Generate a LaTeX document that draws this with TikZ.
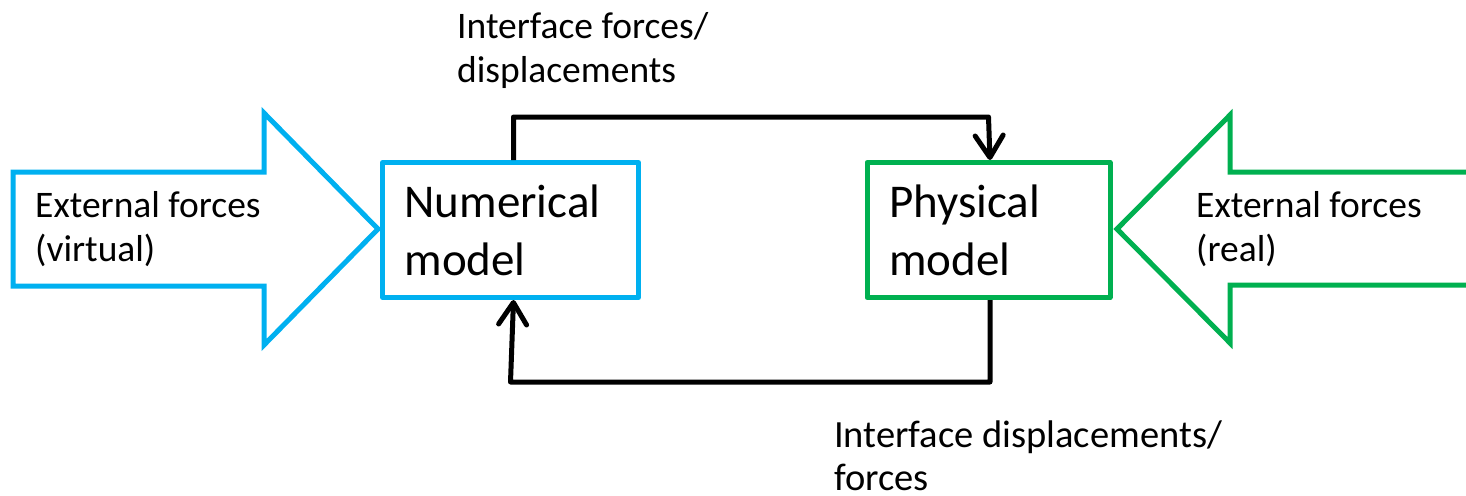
\documentclass[tikz,border=0pt]{standalone}
\usepackage{fontspec}
\setmainfont{Carlito}
\usetikzlibrary{arrows.meta}
\definecolor{cblue}{HTML}{00B0F0}
\definecolor{cgreen}{HTML}{00B050}
\begin{document}
\begin{tikzpicture}[x=1pt,y=-1pt,
  bigarrow/.style={line width=5pt, line join=miter, fill=white},
  modelbox/.style={line width=5pt, line join=round, minimum height=135pt, inner xsep=22pt, inner ysep=0pt, align=left, font=\fontsize{47}{58}\selectfont},
  lbl/.style={align=left, inner sep=0pt, font=\fontsize{37.5}{44}\selectfont},
  conn/.style={line width=5pt, line join=round, -{Straight Barb[length=22pt,width=28pt,line cap=round,line join=round]}}]
\useasboundingbox (0,0) rectangle (1466,495);
\clip (0,0) rectangle (1466,495);
% big arrows
\draw[bigarrow, draw=cblue] (13,172) -- (264,172) -- (264,113) -- (378,229) -- (264,345) -- (264,286) -- (13,286) -- cycle;
\draw[bigarrow, draw=cgreen] (1480,172) -- (1230,172) -- (1230,115) -- (1117,229) -- (1230,343) -- (1230,285) -- (1480,285) -- cycle;
\node[lbl, anchor=base west] (ev) at (35,261) {External forces\\(virtual)};
\node[lbl, anchor=base west] (er) at (1196,261) {External forces\\(real)};
% model boxes
\node[modelbox, draw=cblue, minimum width=256pt, text width=212pt] (num) at (510.5,230) {Numerical\\model};
\node[modelbox, draw=cgreen, minimum width=243pt, text width=199pt] (phy) at (988.5,230) {Physical\\model};
% connectors
\coordinate (topy) at (0,117);
\coordinate (boty) at (0,382);
\draw[conn] ([xshift=3pt]num.north) |- (topy -| phy.north) -- ([xshift=1.5pt]phy.north);
\draw[conn] ([xshift=1.5pt]phy.south) |- (boty -| num.south) -- ([xshift=3pt]num.south);
% labels
\node[lbl, anchor=base west] (tl) at (457,82) {Interface forces/\\displacements};
\node[lbl, anchor=base west, font=\fontsize{38.5}{43}\selectfont] (bl) at (834,490) {Interface displacements/\\forces};
\end{tikzpicture}
\end{document}
